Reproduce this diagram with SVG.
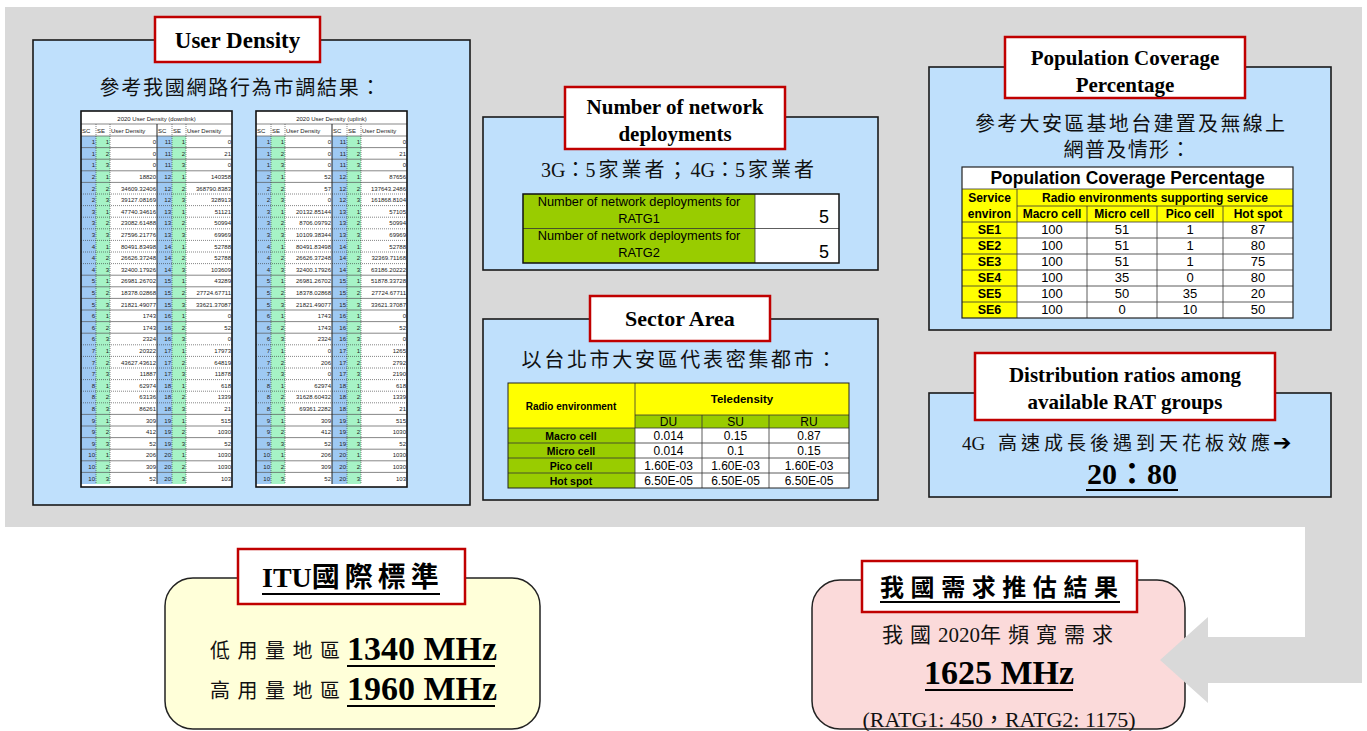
<svg xmlns="http://www.w3.org/2000/svg" xmlns:xlink="http://www.w3.org/1999/xlink" width="1367" height="731" viewBox="0 0 1367 731">
<defs>
<style>
.bg{fill:#d9d9d9}
.panel{fill:#bfe0fc;stroke:#1a1a1a;stroke-width:1.6}
.tbox{fill:#fff;stroke:#c00000;stroke-width:2.5}
.ttl{font-family:"Liberation Serif","Noto Sans CJK TC",serif;font-weight:bold;text-anchor:middle;fill:#000}
.cj{font-family:"Liberation Serif","Noto Sans CJK TC",serif;text-anchor:middle;fill:#111}
.ul{stroke:#000;stroke-width:2}
.ar{font-family:"Liberation Sans",Arial,sans-serif;fill:#000;text-anchor:middle}
.b{font-weight:bold}
.ud text{font-family:"Liberation Sans",Arial,sans-serif;font-size:6px;fill:#222;text-anchor:end}
.ud text.h{text-anchor:start}
.ud text.c{text-anchor:middle}
.sc{fill:#9ec9f3}
.se{fill:#a6f3c6}
.sl{stroke:#555;stroke-width:0.7;fill:none}
.dl{stroke:#333;stroke-width:0.6;stroke-dasharray:1 1;fill:none}
.grn{fill:#99cc00}
.yel{fill:#ffff00}
.wc{fill:#fff}
.gl{stroke:#333;stroke-width:0.8;fill:none}
.frame{fill:none;stroke:#111;stroke-width:1.6}
</style>
<g id="udgrid" class="ud">
<rect x="0" y="0" width="151" height="376" fill="#fff"/>
<rect class="sc" x="0" y="25" width="15" height="348"/>
<rect class="se" x="15" y="25" width="14" height="348"/>
<rect class="sc" x="76" y="25" width="15" height="348"/>
<rect class="se" x="91" y="25" width="14" height="348"/>
<path class="sl" d="M0,13H151M0,25H151M0,36.6H151M0,48.2H151M0,59.8H151M0,71.4H151M0,164.2H151M0,175.8H151M0,187.4H151M0,199H151M0,210.6H151M0,222.2H151M0,303.4H151M0,315H151M0,326.6H151M0,338.2H151M0,349.8H151M0,361.4H151"/>
<path class="dl" d="M0,83H151M0,94.6H151M0,106.2H151M0,117.8H151M0,129.4H151M0,141H151M0,152.6H151M0,233.8H151M0,245.4H151M0,257H151M0,268.6H151M0,280.2H151M0,291.8H151"/>
<path class="dl" d="M15,13V373M29,13V373M91,13V373M105,13V373"/>
<path d="M76,13V373" stroke="#222" stroke-width="1"/>
<text class="h" y="22"><tspan x="1">SC</tspan><tspan x="16">SE</tspan><tspan x="30">User Density</tspan><tspan x="77">SC</tspan><tspan x="92">SE</tspan><tspan x="106">User Density</tspan></text>
<text y="33.2"><tspan x="14">1</tspan><tspan x="28">1</tspan><tspan x="90">11</tspan><tspan x="104">1</tspan></text>
<text y="44.8"><tspan x="14">1</tspan><tspan x="28">2</tspan><tspan x="90">11</tspan><tspan x="104">2</tspan></text>
<text y="56.4"><tspan x="14">1</tspan><tspan x="28">3</tspan><tspan x="90">11</tspan><tspan x="104">3</tspan></text>
<text y="68"><tspan x="14">2</tspan><tspan x="28">1</tspan><tspan x="90">12</tspan><tspan x="104">1</tspan></text>
<text y="79.6"><tspan x="14">2</tspan><tspan x="28">2</tspan><tspan x="90">12</tspan><tspan x="104">2</tspan></text>
<text y="91.2"><tspan x="14">2</tspan><tspan x="28">3</tspan><tspan x="90">12</tspan><tspan x="104">3</tspan></text>
<text y="102.8"><tspan x="14">3</tspan><tspan x="28">1</tspan><tspan x="90">13</tspan><tspan x="104">1</tspan></text>
<text y="114.4"><tspan x="14">3</tspan><tspan x="28">2</tspan><tspan x="90">13</tspan><tspan x="104">2</tspan></text>
<text y="126"><tspan x="14">3</tspan><tspan x="28">3</tspan><tspan x="90">13</tspan><tspan x="104">3</tspan></text>
<text y="137.6"><tspan x="14">4</tspan><tspan x="28">1</tspan><tspan x="90">14</tspan><tspan x="104">1</tspan></text>
<text y="149.2"><tspan x="14">4</tspan><tspan x="28">2</tspan><tspan x="90">14</tspan><tspan x="104">2</tspan></text>
<text y="160.8"><tspan x="14">4</tspan><tspan x="28">3</tspan><tspan x="90">14</tspan><tspan x="104">3</tspan></text>
<text y="172.4"><tspan x="14">5</tspan><tspan x="28">1</tspan><tspan x="90">15</tspan><tspan x="104">1</tspan></text>
<text y="184"><tspan x="14">5</tspan><tspan x="28">2</tspan><tspan x="90">15</tspan><tspan x="104">2</tspan></text>
<text y="195.6"><tspan x="14">5</tspan><tspan x="28">3</tspan><tspan x="90">15</tspan><tspan x="104">3</tspan></text>
<text y="207.2"><tspan x="14">6</tspan><tspan x="28">1</tspan><tspan x="90">16</tspan><tspan x="104">1</tspan></text>
<text y="218.8"><tspan x="14">6</tspan><tspan x="28">2</tspan><tspan x="90">16</tspan><tspan x="104">2</tspan></text>
<text y="230.4"><tspan x="14">6</tspan><tspan x="28">3</tspan><tspan x="90">16</tspan><tspan x="104">3</tspan></text>
<text y="242"><tspan x="14">7</tspan><tspan x="28">1</tspan><tspan x="90">17</tspan><tspan x="104">1</tspan></text>
<text y="253.6"><tspan x="14">7</tspan><tspan x="28">2</tspan><tspan x="90">17</tspan><tspan x="104">2</tspan></text>
<text y="265.2"><tspan x="14">7</tspan><tspan x="28">3</tspan><tspan x="90">17</tspan><tspan x="104">3</tspan></text>
<text y="276.8"><tspan x="14">8</tspan><tspan x="28">1</tspan><tspan x="90">18</tspan><tspan x="104">1</tspan></text>
<text y="288.4"><tspan x="14">8</tspan><tspan x="28">2</tspan><tspan x="90">18</tspan><tspan x="104">2</tspan></text>
<text y="300"><tspan x="14">8</tspan><tspan x="28">3</tspan><tspan x="90">18</tspan><tspan x="104">3</tspan></text>
<text y="311.6"><tspan x="14">9</tspan><tspan x="28">1</tspan><tspan x="90">19</tspan><tspan x="104">1</tspan></text>
<text y="323.2"><tspan x="14">9</tspan><tspan x="28">2</tspan><tspan x="90">19</tspan><tspan x="104">2</tspan></text>
<text y="334.8"><tspan x="14">9</tspan><tspan x="28">3</tspan><tspan x="90">19</tspan><tspan x="104">3</tspan></text>
<text y="346.4"><tspan x="14">10</tspan><tspan x="28">1</tspan><tspan x="90">20</tspan><tspan x="104">1</tspan></text>
<text y="358"><tspan x="14">10</tspan><tspan x="28">2</tspan><tspan x="90">20</tspan><tspan x="104">2</tspan></text>
<text y="369.6"><tspan x="14">10</tspan><tspan x="28">3</tspan><tspan x="90">20</tspan><tspan x="104">3</tspan></text>
</g>
</defs>

<rect class="bg" x="5" y="7" width="1357" height="520"/>

<g id="user-density">
<rect class="panel" x="33" y="40" width="437" height="465"/>
<rect class="tbox" x="155" y="17" width="165" height="45"/>
<text class="ttl" x="237.5" y="48" font-size="23">User Density</text>
<text class="cj" x="240" y="95" font-size="20" textLength="281" lengthAdjust="spacing">參考我國網路行為市調結果：</text>
<g class="ud" transform="translate(81,111)">
<use xlink:href="#udgrid"/>
<text class="c" x="75.5" y="9.5" fill="#444">2020 User Density (downlink)</text>
<text y="33.2"><tspan x="75">0</tspan><tspan x="150">0</tspan></text>
<text y="44.8"><tspan x="75">0</tspan><tspan x="150">21</tspan></text>
<text y="56.4"><tspan x="75">0</tspan><tspan x="150">0</tspan></text>
<text y="68"><tspan x="75">18820</tspan><tspan x="150">140358</tspan></text>
<text y="79.6"><tspan x="75">34609.32406</tspan><tspan x="150">368790.8383</tspan></text>
<text y="91.2"><tspan x="75">39127.08169</tspan><tspan x="150">328913</tspan></text>
<text y="102.8"><tspan x="75">47740.34616</tspan><tspan x="150">51121</tspan></text>
<text y="114.4"><tspan x="75">23082.61488</tspan><tspan x="150">50994</tspan></text>
<text y="126"><tspan x="75">27596.21776</tspan><tspan x="150">69969</tspan></text>
<text y="137.6"><tspan x="75">80491.83498</tspan><tspan x="150">52788</tspan></text>
<text y="149.2"><tspan x="75">26626.37248</tspan><tspan x="150">52788</tspan></text>
<text y="160.8"><tspan x="75">32400.17926</tspan><tspan x="150">103609</tspan></text>
<text y="172.4"><tspan x="75">26981.26702</tspan><tspan x="150">43289</tspan></text>
<text y="184"><tspan x="75">18378.02868</tspan><tspan x="150">27724.67711</tspan></text>
<text y="195.6"><tspan x="75">21821.49077</tspan><tspan x="150">33621.37087</tspan></text>
<text y="207.2"><tspan x="75">1743</tspan><tspan x="150">0</tspan></text>
<text y="218.8"><tspan x="75">1743</tspan><tspan x="150">52</tspan></text>
<text y="230.4"><tspan x="75">2324</tspan><tspan x="150">0</tspan></text>
<text y="242"><tspan x="75">20322</tspan><tspan x="150">17973</tspan></text>
<text y="253.6"><tspan x="75">43627.43612</tspan><tspan x="150">64819</tspan></text>
<text y="265.2"><tspan x="75">11887</tspan><tspan x="150">11878</tspan></text>
<text y="276.8"><tspan x="75">62974</tspan><tspan x="150">618</tspan></text>
<text y="288.4"><tspan x="75">63136</tspan><tspan x="150">1339</tspan></text>
<text y="300"><tspan x="75">86261</tspan><tspan x="150">21</tspan></text>
<text y="311.6"><tspan x="75">309</tspan><tspan x="150">515</tspan></text>
<text y="323.2"><tspan x="75">412</tspan><tspan x="150">1030</tspan></text>
<text y="334.8"><tspan x="75">52</tspan><tspan x="150">52</tspan></text>
<text y="346.4"><tspan x="75">206</tspan><tspan x="150">1030</tspan></text>
<text y="358"><tspan x="75">309</tspan><tspan x="150">1030</tspan></text>
<text y="369.6"><tspan x="75">52</tspan><tspan x="150">103</tspan></text>
<rect class="frame" x="0" y="0" width="151" height="376"/>
</g>
<g class="ud" transform="translate(256,111)">
<use xlink:href="#udgrid"/>
<text class="c" x="75.5" y="9.5" fill="#444">2020 User Density (uplink)</text>
<text y="33.2"><tspan x="75">0</tspan><tspan x="150">0</tspan></text>
<text y="44.8"><tspan x="75">0</tspan><tspan x="150">21</tspan></text>
<text y="56.4"><tspan x="75">0</tspan><tspan x="150">0</tspan></text>
<text y="68"><tspan x="75">52</tspan><tspan x="150">87656</tspan></text>
<text y="79.6"><tspan x="75">57</tspan><tspan x="150">137643.2486</tspan></text>
<text y="91.2"><tspan x="75">0</tspan><tspan x="150">161868.8104</tspan></text>
<text y="102.8"><tspan x="75">20132.85144</tspan><tspan x="150">57105</tspan></text>
<text y="114.4"><tspan x="75">8706.09792</tspan><tspan x="150">50994</tspan></text>
<text y="126"><tspan x="75">10109.38344</tspan><tspan x="150">69969</tspan></text>
<text y="137.6"><tspan x="75">80491.83498</tspan><tspan x="150">52788</tspan></text>
<text y="149.2"><tspan x="75">26626.37248</tspan><tspan x="150">32369.71168</tspan></text>
<text y="160.8"><tspan x="75">32400.17926</tspan><tspan x="150">63186.20222</tspan></text>
<text y="172.4"><tspan x="75">26981.26702</tspan><tspan x="150">51878.33728</tspan></text>
<text y="184"><tspan x="75">18378.02868</tspan><tspan x="150">27724.67711</tspan></text>
<text y="195.6"><tspan x="75">21821.49077</tspan><tspan x="150">33621.37087</tspan></text>
<text y="207.2"><tspan x="75">1743</tspan><tspan x="150">0</tspan></text>
<text y="218.8"><tspan x="75">1743</tspan><tspan x="150">52</tspan></text>
<text y="230.4"><tspan x="75">2324</tspan><tspan x="150">0</tspan></text>
<text y="242"><tspan x="75">0</tspan><tspan x="150">1265</tspan></text>
<text y="253.6"><tspan x="75">206</tspan><tspan x="150">2792</tspan></text>
<text y="265.2"><tspan x="75">0</tspan><tspan x="150">2190</tspan></text>
<text y="276.8"><tspan x="75">62974</tspan><tspan x="150">618</tspan></text>
<text y="288.4"><tspan x="75">31628.60432</tspan><tspan x="150">1339</tspan></text>
<text y="300"><tspan x="75">69361.2282</tspan><tspan x="150">21</tspan></text>
<text y="311.6"><tspan x="75">309</tspan><tspan x="150">515</tspan></text>
<text y="323.2"><tspan x="75">412</tspan><tspan x="150">1030</tspan></text>
<text y="334.8"><tspan x="75">52</tspan><tspan x="150">52</tspan></text>
<text y="346.4"><tspan x="75">206</tspan><tspan x="150">1030</tspan></text>
<text y="358"><tspan x="75">309</tspan><tspan x="150">1030</tspan></text>
<text y="369.6"><tspan x="75">52</tspan><tspan x="150">103</tspan></text>
<rect class="frame" x="0" y="0" width="151" height="376"/>
</g>
</g>

<g id="network-deployments">
<rect class="panel" x="483" y="117" width="395" height="153"/>
<rect class="tbox" x="565" y="87" width="220" height="62"/>
<text class="ttl" x="675" y="114" font-size="21">Number of network</text>
<text class="ttl" x="675" y="141" font-size="21">deployments</text>
<text class="cj" x="679" y="177" font-size="20">3G：<tspan letter-spacing="3">5家業者；</tspan>4G：<tspan letter-spacing="3">5家業者</tspan></text>
<rect class="grn" x="523" y="194" width="232" height="69"/>
<rect class="wc" x="755" y="194" width="84" height="69"/>
<path class="gl" d="M523,228.5H839M755,194V263"/>
<rect x="523" y="194" width="316" height="69" fill="none" stroke="#111" stroke-width="1.5"/>
<text class="ar" x="639" y="206" font-size="12.8">Number of network deployments for</text>
<text class="ar" x="639" y="223" font-size="12.8">RATG1</text>
<text class="ar" x="639" y="240" font-size="12.8">Number of network deployments for</text>
<text class="ar" x="639" y="257" font-size="12.8">RATG2</text>
<text class="ar" x="829" y="223" font-size="18" style="text-anchor:end">5</text>
<text class="ar" x="829" y="258" font-size="18" style="text-anchor:end">5</text>
</g>

<g id="sector-area">
<rect class="panel" x="483" y="319" width="395" height="181"/>
<rect class="tbox" x="590" y="296" width="180" height="45"/>
<text class="ttl" x="680" y="326" font-size="22">Sector Area</text>
<text class="cj" x="679" y="367" font-size="20" textLength="315" lengthAdjust="spacing">以台北市大安區代表密集都市：</text>
<rect class="yel" x="508" y="383" width="341" height="32"/>
<rect class="yel" x="508" y="415" width="127" height="13"/>
<rect class="grn" x="635" y="415" width="214" height="13"/>
<rect class="grn" x="508" y="428" width="127" height="60"/>
<rect class="wc" x="635" y="428" width="214" height="60"/>
<path class="gl" d="M635,415H849M508,428H849M508,443H849M508,458H849M508,473H849M635,383V488M702,415V488M769,415V488"/>
<rect x="508" y="383" width="341" height="105" fill="none" stroke="#222" stroke-width="1"/>
<text class="ar b" x="571" y="410" font-size="10">Radio environment</text>
<text class="ar b" x="742" y="403" font-size="11.5">Teledensity</text>
<text class="ar" y="426" font-size="12"><tspan x="668.5">DU</tspan><tspan x="735.5">SU</tspan><tspan x="809">RU</tspan></text>
<text class="ar b" x="571" y="440" font-size="10.5">Macro cell</text>
<text class="ar b" x="571" y="455" font-size="10.5">Micro cell</text>
<text class="ar b" x="571" y="470" font-size="10.5">Pico cell</text>
<text class="ar b" x="571" y="485" font-size="10.5">Hot spot</text>
<text class="ar" y="440" font-size="12"><tspan x="668.5">0.014</tspan><tspan x="735.5">0.15</tspan><tspan x="809">0.87</tspan></text>
<text class="ar" y="455" font-size="12"><tspan x="668.5">0.014</tspan><tspan x="735.5">0.1</tspan><tspan x="809">0.15</tspan></text>
<text class="ar" y="470" font-size="12"><tspan x="668.5">1.60E-03</tspan><tspan x="735.5">1.60E-03</tspan><tspan x="809">1.60E-03</tspan></text>
<text class="ar" y="485" font-size="12"><tspan x="668.5">6.50E-05</tspan><tspan x="735.5">6.50E-05</tspan><tspan x="809">6.50E-05</tspan></text>
</g>

<g id="population-coverage">
<rect class="panel" x="929" y="67" width="402" height="263"/>
<rect class="tbox" x="1005" y="37" width="240" height="61"/>
<text class="ttl" x="1125" y="65" font-size="21">Population Coverage</text>
<text class="ttl" x="1125" y="92" font-size="21">Percentage</text>
<text class="cj" x="1130" y="131" font-size="20" textLength="310" lengthAdjust="spacing">參考大安區基地台建置及無線上</text>
<text class="cj" x="1127" y="157" font-size="20" textLength="127" lengthAdjust="spacing">網普及情形：</text>
<rect class="wc" x="962" y="167" width="331" height="22"/>
<rect class="yel" x="962" y="189" width="331" height="33"/>
<rect class="yel" x="962" y="222" width="55" height="96"/>
<rect class="wc" x="1017" y="222" width="276" height="96"/>
<path class="gl" d="M962,189H1293M1017,206H1293M962,222H1293M962,238H1293M962,254H1293M962,270H1293M962,286H1293M962,302H1293M1017,189V318M1087,206V318M1157,206V318M1223,206V318"/>
<rect x="962" y="167" width="331" height="151" fill="none" stroke="#222" stroke-width="1.2"/>
<text class="ar b" x="1127.5" y="184" font-size="17.5">Population Coverage Percentage</text>
<text class="ar b" x="989.5" y="202" font-size="12">Service</text>
<text class="ar b" x="989.5" y="218" font-size="12">environ</text>
<text class="ar b" x="1155" y="202" font-size="12">Radio environments supporting service</text>
<text class="ar b" y="218" font-size="12"><tspan x="1052">Macro cell</tspan><tspan x="1122">Micro cell</tspan><tspan x="1190">Pico cell</tspan><tspan x="1258">Hot spot</tspan></text>
<text class="ar b" x="989.5" y="234" font-size="12.5">SE1</text>
<text class="ar b" x="989.5" y="250" font-size="12.5">SE2</text>
<text class="ar b" x="989.5" y="266" font-size="12.5">SE3</text>
<text class="ar b" x="989.5" y="282" font-size="12.5">SE4</text>
<text class="ar b" x="989.5" y="298" font-size="12.5">SE5</text>
<text class="ar b" x="989.5" y="314" font-size="12.5">SE6</text>
<text class="ar" y="234" font-size="13"><tspan x="1052">100</tspan><tspan x="1122">51</tspan><tspan x="1190">1</tspan><tspan x="1258">87</tspan></text>
<text class="ar" y="250" font-size="13"><tspan x="1052">100</tspan><tspan x="1122">51</tspan><tspan x="1190">1</tspan><tspan x="1258">80</tspan></text>
<text class="ar" y="266" font-size="13"><tspan x="1052">100</tspan><tspan x="1122">51</tspan><tspan x="1190">1</tspan><tspan x="1258">75</tspan></text>
<text class="ar" y="282" font-size="13"><tspan x="1052">100</tspan><tspan x="1122">35</tspan><tspan x="1190">0</tspan><tspan x="1258">80</tspan></text>
<text class="ar" y="298" font-size="13"><tspan x="1052">100</tspan><tspan x="1122">50</tspan><tspan x="1190">35</tspan><tspan x="1258">20</tspan></text>
<text class="ar" y="314" font-size="13"><tspan x="1052">100</tspan><tspan x="1122">0</tspan><tspan x="1190">10</tspan><tspan x="1258">50</tspan></text>
</g>

<g id="distribution-ratios">
<rect class="panel" x="929" y="393" width="402" height="104"/>
<rect class="tbox" x="975" y="353" width="300" height="67"/>
<text class="ttl" x="1125" y="382" font-size="21">Distribution ratios among</text>
<text class="ttl" x="1125" y="409" font-size="21">available RAT groups</text>
<text class="cj" x="962" y="450" font-size="19" style="text-anchor:start">4G</text>
<text class="cj" x="998" y="450" font-size="19" textLength="272" lengthAdjust="spacing" style="text-anchor:start">高速成長後遇到天花板效應</text>
<text x="1273" y="450" font-size="22" font-weight="bold" font-family="DejaVu Sans,sans-serif">➔</text>
<text class="ttl" x="1132" y="484" font-size="30">20：80</text>
<line class="ul" x1="1086" y1="490" x2="1178" y2="490"/>
</g>

<g id="itu-standard">
<rect x="165" y="578" width="375" height="151" rx="28" fill="#ffffd9" stroke="#222" stroke-width="1.5"/>
<rect class="tbox" x="238" y="549" width="227" height="55"/>
<text class="ttl" x="262" y="587" font-size="28" style="text-anchor:start">ITU<tspan letter-spacing="5">國際標準</tspan></text>
<line class="ul" x1="262" y1="594" x2="440" y2="594"/>
<text class="cj" x="210" y="658" font-size="20" textLength="130" lengthAdjust="spacing" style="text-anchor:start">低用量地區</text>
<text class="ttl" x="347" y="660" font-size="34" style="text-anchor:start">1340 MHz</text>
<line class="ul" x1="347" y1="666" x2="495" y2="666"/>
<text class="cj" x="210" y="698" font-size="20" textLength="130" lengthAdjust="spacing" style="text-anchor:start">高用量地區</text>
<text class="ttl" x="347" y="700" font-size="34" style="text-anchor:start">1960 MHz</text>
<line class="ul" x1="347" y1="706" x2="495" y2="706"/>
</g>

<g id="domestic-estimate">
<rect x="812" y="580" width="373" height="149" rx="28" fill="#fbdada" stroke="#222" stroke-width="1.5"/>
<rect class="tbox" x="862" y="561" width="275" height="51"/>
<text class="ttl" x="999" y="596" font-size="24" textLength="238" lengthAdjust="spacing">我國需求推估結果</text>
<line class="ul" x1="880" y1="602" x2="1120" y2="602"/>
<text class="cj" x="882" y="642" font-size="21" style="text-anchor:start"><tspan letter-spacing="7">我國</tspan>2020<tspan letter-spacing="7">年頻寬需求</tspan></text>
<text class="ttl" x="999" y="684" font-size="34">1625 MHz</text>
<line class="ul" x1="925" y1="690" x2="1073" y2="690"/>
<text class="cj" x="999" y="727" font-size="22">(RATG1: 450，RATG2: 1175)</text>
</g>

<g id="connectors">
<path class="bg" d="M1362,520V683H1208V703L1160,660L1208,617V637H1305V520Z"/>
</g>
</svg>
